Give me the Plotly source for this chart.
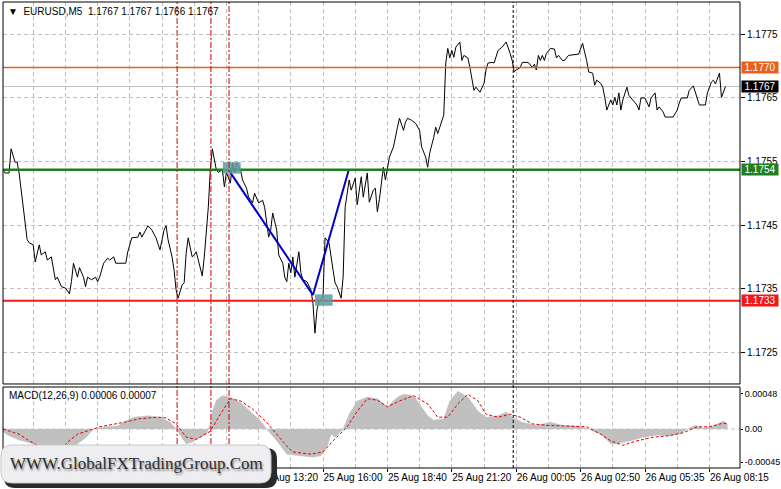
import plotly.graph_objects as go

# ---------------- data (bar index = 5-minute bars) ----------------
price_bar = [1, 2, 4, 5, 7, 8, 9, 11, 13, 14, 16, 17, 19, 20, 22, 23, 25, 27, 28, 30, 32, 34, 35, 36, 38, 39, 41, 42, 43, 45,
             47, 48, 49, 51, 53, 54, 56, 57, 62, 63, 65, 68, 69, 70, 72, 73, 75, 77, 79, 81, 82, 83, 85, 86, 87, 88, 90, 91, 92, 93,
             95, 96, 97, 99, 100, 101, 103, 104, 105, 107, 108, 110, 111, 112, 114, 115, 116, 117, 119, 120, 122, 123, 125, 126, 128, 130, 131, 133, 134, 135,
             137, 138, 140, 141, 142, 143, 144, 145, 146, 148, 149, 150, 152, 154, 155, 156, 157, 158, 160, 161, 163, 165, 166, 167, 168, 169, 170, 171, 173, 174,
             176, 177, 179, 180, 182, 183, 185, 186, 187, 188, 190, 191, 193, 195, 197, 198, 200, 201, 202, 204, 206, 208, 209, 211, 212, 213, 215, 216, 217, 218,
             220, 221, 222, 223, 224, 225, 226, 228, 229, 230, 232, 233, 234, 235, 236, 238, 240, 241, 242, 244, 245, 247, 249, 251, 253, 254, 255, 256, 258, 259,
             262, 264, 265, 266, 267, 268, 269, 270, 271, 273, 275, 276, 277, 279, 280, 282, 287, 289, 290, 291, 292, 294, 295, 296, 298, 299, 300, 301, 303, 304,
             305, 306, 307, 308, 309, 311, 312, 313, 315, 316, 317, 318, 320, 321, 322, 323, 325, 326, 327, 329, 330, 334, 336, 337, 338, 341, 342, 344, 345, 347,
             350, 351, 353, 354, 355, 357, 358, 360]
price_close = [1.17537, 1.17532, 1.17532, 1.17570, 1.17549, 1.17549, 1.17532, 1.17478, 1.17427, 1.17422, 1.17419, 1.17392, 1.17419, 1.17403, 1.17408, 1.17395, 1.17400, 1.17364, 1.17368, 1.17353, 1.17351, 1.17342, 1.17361, 1.17390, 1.17368, 1.17383, 1.17368, 1.17353, 1.17368, 1.17364,
               1.17368, 1.17361, 1.17368, 1.17390, 1.17398, 1.17395, 1.17400, 1.17390, 1.17390, 1.17408, 1.17430, 1.17431, 1.17439, 1.17431, 1.17442, 1.17449, 1.17442, 1.17430, 1.17411, 1.17442, 1.17449, 1.17427, 1.17400, 1.17379, 1.17348, 1.17335, 1.17356, 1.17359, 1.17406, 1.17430,
               1.17400, 1.17403, 1.17408, 1.17384, 1.17370, 1.17400, 1.17478, 1.17537, 1.17570, 1.17537, 1.17533, 1.17537, 1.17510, 1.17533, 1.17516, 1.17548, 1.17532, 1.17548, 1.17537, 1.17521, 1.17508, 1.17494, 1.17485, 1.17500, 1.17485, 1.17489, 1.17478, 1.17431, 1.17442, 1.17469,
               1.17442, 1.17403, 1.17390, 1.17368, 1.17361, 1.17390, 1.17375, 1.17400, 1.17368, 1.17408, 1.17375, 1.17364, 1.17361, 1.17348, 1.17327, 1.17280, 1.17317, 1.17329, 1.17337, 1.17430, 1.17422, 1.17379, 1.17359, 1.17353, 1.17345, 1.17335, 1.17368, 1.17478, 1.17521, 1.17505,
               1.17524, 1.17482, 1.17526, 1.17494, 1.17532, 1.17486, 1.17505, 1.17508, 1.17471, 1.17490, 1.17541, 1.17521, 1.17557, 1.17573, 1.17604, 1.17618, 1.17599, 1.17612, 1.17618, 1.17615, 1.17610, 1.17599, 1.17573, 1.17557, 1.17541, 1.17563, 1.17588, 1.17604, 1.17594, 1.17604,
               1.17623, 1.17705, 1.17728, 1.17713, 1.17725, 1.17714, 1.17730, 1.17738, 1.17709, 1.17717, 1.17713, 1.17698, 1.17678, 1.17662, 1.17667, 1.17659, 1.17673, 1.17694, 1.17705, 1.17706, 1.17705, 1.17725, 1.17730, 1.17738, 1.17720, 1.17709, 1.17691, 1.17694, 1.17698, 1.17706,
               1.17706, 1.17698, 1.17703, 1.17694, 1.17717, 1.17709, 1.17717, 1.17709, 1.17720, 1.17728, 1.17727, 1.17713, 1.17717, 1.17709, 1.17709, 1.17717, 1.17719, 1.17736, 1.17722, 1.17709, 1.17691, 1.17689, 1.17670, 1.17678, 1.17673, 1.17667, 1.17651, 1.17631, 1.17647, 1.17639,
               1.17651, 1.17639, 1.17658, 1.17631, 1.17647, 1.17667, 1.17654, 1.17650, 1.17643, 1.17639, 1.17631, 1.17650, 1.17650, 1.17643, 1.17636, 1.17650, 1.17658, 1.17631, 1.17636, 1.17628, 1.17620, 1.17620, 1.17631, 1.17642, 1.17650, 1.17650, 1.17662, 1.17669, 1.17658, 1.17639,
               1.17639, 1.17658, 1.17675, 1.17678, 1.17672, 1.17689, 1.17651, 1.17668]

hist_bar = [1, 4, 9, 16, 22, 29, 37, 42, 46, 52, 58, 62, 66, 73, 79, 84, 87, 90, 92, 95, 99, 102, 104, 105, 107, 110, 114, 119, 124, 129,
            132, 137, 142, 149, 155, 159, 162, 164, 166, 170, 173, 177, 182, 187, 192, 197, 200, 205, 208, 212, 215, 220, 223, 227, 232, 237, 241, 247, 251, 254,
            259, 266, 273, 279, 286, 292, 298, 303, 306, 313, 319, 326, 332, 337, 341, 345, 349, 354, 359, 361]
hist_val = [-0.00004, -0.00009, -0.00015, -0.00020, -0.00028, -0.00031, -0.00022, -0.00012, 0.0, 0.00003, 0.00004, 0.00011, 0.00016, 0.00018, 0.00016, 0.00009, 0.0, -0.00012, -0.00020, -0.00018,
            -0.00011, -0.00007, 0.00007, 0.00024, 0.00039, 0.00045, 0.00043, 0.00036, 0.00024, 0.00011, 0.0, -0.00016, -0.00034, -0.00036, -0.00038, -0.00036, -0.00024, -0.00007, -0.00011, 0.0,
            0.00020, 0.00038, 0.00043, 0.00041, 0.00030, 0.00043, 0.00047, 0.00045, 0.00034, 0.00018, 0.00012, 0.00014, 0.00038, 0.00051, 0.00043, 0.00024, 0.00016, 0.00018, 0.00023, 0.00016,
            0.00009, 0.00005, 0.00009, 0.00005, 0.00004, 0.0, -0.00007, -0.00020, -0.00020, -0.00016, -0.00011, -0.00008, -0.00009, -0.00007, 0.0, 0.00005, 0.00001, 0.00004, 0.00011, 0.00006]

signal_bar = [1, 9, 14, 22, 29, 33, 38, 49, 61, 69, 78, 82, 87, 92, 97, 104, 109, 114, 119, 125, 132, 137, 142, 145, 154, 160, 165, 172, 177, 182,
              187, 192, 198, 205, 212, 217, 222, 227, 232, 237, 241, 247, 253, 258, 264, 271, 279, 291, 298, 303, 309, 316, 324, 332, 339, 346, 352, 359, 361]
signal_val = [0.0, -0.00007, -0.00016, -0.00028, -0.00031, -0.00018, -0.00007, 0.00003, 0.00009, 0.00014, 0.00016, 0.00015, 0.00007, -0.00011, -0.00014, -0.00003, 0.00020, 0.00041, 0.00038, 0.00027,
              0.00009, -0.00007, -0.00023, -0.00031, -0.00034, -0.00031, -0.00016, 0.00003, 0.00024, 0.00041, 0.00039, 0.00030, 0.00038, 0.00045, 0.00034, 0.00016, 0.00016, 0.00034, 0.00047, 0.00038,
              0.00020, 0.00016, 0.00020, 0.00016, 0.00007, 0.00005, 0.00004, 0.00003, -0.00007, -0.00016, -0.00022, -0.00016, -0.00011, -0.00009, -0.00005, 0.00003, 0.00003, 0.00008, 0.00007]

tick_bar = [32, 64, 96, 128, 160, 192, 224, 256, 288, 320, 352]
tick_text = ["25 Aug 05:20", "25 Aug 08:00", "25 Aug 10:40", "25 Aug 13:20", "25 Aug 16:00", "25 Aug 18:40",
             "25 Aug 21:20", "26 Aug 00:05", "26 Aug 02:50", "26 Aug 05:35", "26 Aug 08:15"]

price_ticks = [1.1725, 1.1735, 1.1745, 1.1755, 1.1765, 1.1775]
macd_ticks = [0.00048, 0.0, -0.00045]
macd_tick_text = ["0.00048", "0.00", "-0.00045"]

level_price = [1.17698, 1.17537, 1.17331]
level_color = ["#E8601A", "#1E7F1E", "#F01818"]
level_width = [1.5, 2.5, 2]
bid_price = 1.17668

trend_bar = [112.8, 155.0, 172.9]
trend_price = [1.17538, 1.17340, 1.17538]

box_bar0 = [110.2, 156.0]
box_bar1 = [119.1, 164.8]
box_price0 = [1.17531, 1.17323]
box_price1 = [1.17549, 1.17341]

red_vlines = [87.5, 104.3, 113.3]
day_sep = 254.5

title_text = "▼&nbsp;&nbsp;EURUSD,M5&nbsp;&nbsp;1.1767 1.1767 1.1766 1.1767"
macd_text = "MACD(12,26,9) 0.00006 0.00007"
watermark = "WWW.GlobalFXTradingGroup.Com"

# ---------------- figure ----------------
FONT = "Liberation Sans, Arial, sans-serif"
GRID = "#C0C0C0"
GDASH = "4px,3px"

fig = go.Figure()
fig.add_trace(go.Scatter(x=price_bar, y=price_close, mode="lines",
                         line=dict(color="black", width=1), xaxis="x", yaxis="y", hoverinfo="skip"))
fig.add_trace(go.Scatter(x=trend_bar, y=trend_price, mode="lines",
                         line=dict(color="#0000CC", width=2), xaxis="x", yaxis="y", hoverinfo="skip"))
fig.add_trace(go.Scatter(x=hist_bar, y=hist_val, mode="lines", fill="tozeroy",
                         fillcolor="#C0C0C0", line=dict(color="#C0C0C0", width=0.5),
                         xaxis="x2", yaxis="y2", hoverinfo="skip"))
fig.add_trace(go.Scatter(x=signal_bar, y=signal_val, mode="lines",
                         line=dict(color="#E00000", width=1, dash="3px,2px"),
                         xaxis="x2", yaxis="y2", hoverinfo="skip"))

shapes = []
# bid line (behind)
shapes.append(dict(type="line", xref="x domain", x0=0, x1=1, yref="y", y0=bid_price, y1=bid_price,
                   line=dict(color="#C0C0C0", width=1), layer="below"))
# macd zero grid
shapes.append(dict(type="line", xref="x2 domain", x0=0, x1=1, yref="y2", y0=0, y1=0,
                   line=dict(color=GRID, width=1, dash=GDASH), layer="below"))
for p, c, w in zip(level_price, level_color, level_width):
    shapes.append(dict(type="line", xref="x domain", x0=0, x1=1, yref="y", y0=p, y1=p,
                       line=dict(color=c, width=w), layer="above"))
for a0, a1, b0, b1 in zip(box_bar0, box_bar1, box_price0, box_price1):
    shapes.append(dict(type="rect", xref="x", yref="y", x0=a0, x1=a1, y0=b0, y1=b1,
                       fillcolor="#5F9EA0", opacity=0.85, line=dict(width=0), layer="above"))
for v in red_vlines:
    shapes.append(dict(type="line", xref="x", x0=v, x1=v, yref="paper", y0=0, y1=1,
                       line=dict(color="#D00000", width=1, dash="6px,2px,2px,2px"), layer="above"))
shapes.append(dict(type="line", xref="x", x0=day_sep, x1=day_sep, yref="paper", y0=0, y1=1,
                   line=dict(color="black", width=1, dash="3px,2px"), layer="above"))
# panel borders
shapes.append(dict(type="rect", xref="x domain", yref="y domain", x0=0, x1=1, y0=0, y1=1,
                   line=dict(color="black", width=1), layer="above"))
shapes.append(dict(type="rect", xref="x2 domain", yref="y2 domain", x0=0, x1=1, y0=0, y1=1,
                   line=dict(color="black", width=1), layer="above"))


def rrect(x0, y0, x1, y1, r):
    def X(p):
        return (p - 3) / 737.0

    def Y(p):
        return (468 - p) / 466.0
    return (f"M {X(x0+r)} {Y(y0)} L {X(x1-r)} {Y(y0)} Q {X(x1)} {Y(y0)} {X(x1)} {Y(y0+r)} "
            f"L {X(x1)} {Y(y1-r)} Q {X(x1)} {Y(y1)} {X(x1-r)} {Y(y1)} L {X(x0+r)} {Y(y1)} "
            f"Q {X(x0)} {Y(y1)} {X(x0)} {Y(y1-r)} L {X(x0)} {Y(y0+r)} Q {X(x0)} {Y(y0)} {X(x0+r)} {Y(y0)} Z")


shapes.append(dict(type="path", xref="paper", yref="paper", path=rrect(4, 448, 277, 488, 11),
                   fillcolor="#2A2A2A", line=dict(width=0), layer="above"))
shapes.append(dict(type="path", xref="paper", yref="paper", path=rrect(1, 445, 271, 483, 11),
                   fillcolor="#EEEEF1", line=dict(color="#C8C8C8", width=1), layer="above"))

annotations = []
for p, c in zip(level_price, level_color):
    annotations.append(dict(xref="paper", x=1, xanchor="left", xshift=1, yref="y", y=p,
                            text=f"{p:.4f}", showarrow=False, bgcolor=c, width=36, height=11,
                            borderpad=0, font=dict(family=FONT, size=10, color="white")))
annotations.append(dict(xref="paper", x=1, xanchor="left", xshift=1, yref="y", y=bid_price,
                        text=f"{bid_price:.4f}", showarrow=False, bgcolor="black", width=36, height=11,
                        borderpad=0, font=dict(family=FONT, size=10, color="white")))
annotations.append(dict(xref="paper", x=0, xanchor="left", xshift=3, yref="paper", y=1, yanchor="top",
                        yshift=-2, text=title_text, showarrow=False,
                        font=dict(family=FONT, size=10, color="black")))
annotations.append(dict(xref="paper", x=0, xanchor="left", xshift=4, yref="y2 domain", y=1, yanchor="top",
                        yshift=-1, text=macd_text, showarrow=False,
                        font=dict(family=FONT, size=10, color="black")))
annotations.append(dict(xref="paper", x=(136 - 3) / 737.0, xanchor="center", yref="paper",
                        y=(468 - 463) / 466.0, yanchor="middle", text=watermark, showarrow=False,
                        font=dict(family="Liberation Serif, Times New Roman, serif", size=17, color="#2F2F2F",
                                  shadow="1px 2px 2px rgba(0,0,0,0.45)")))

fig.update_layout(
    width=781, height=489,
    margin=dict(l=3, r=41, t=2, b=21, pad=0, autoexpand=False),
    paper_bgcolor="white", plot_bgcolor="white",
    showlegend=False,
    font=dict(family=FONT, size=10, color="black"),
    xaxis=dict(domain=[0, 1], anchor="y", range=[0.99, 367.2], tickmode="linear", tick0=0, dtick=16,
               showticklabels=False, ticks="", showgrid=True, gridcolor=GRID, griddash=GDASH, gridwidth=1,
               zeroline=False, showline=False, automargin=False),
    xaxis2=dict(domain=[0, 1], anchor="y2", matches="x", range=[0.99, 367.2], tickmode="array",
                tickvals=tick_bar, ticktext=tick_text, ticklabelposition="outside right", tickangle=0,
                ticks="outside", ticklen=3, tickcolor="black", tickfont=dict(family=FONT, size=10),
                showgrid=True, gridcolor=GRID, griddash=GDASH, gridwidth=1, automargin=False,
                ticklabeloverflow="allow",
                minor=dict(tickmode="linear", tick0=0, dtick=16, showgrid=True, gridcolor=GRID,
                           griddash=GDASH, gridwidth=1, ticks=""),
                zeroline=False, showline=False),
    yaxis=dict(domain=[0.1803, 1], anchor="x", side="right", range=[1.17200, 1.17801],
               tickmode="array", tickvals=price_ticks, ticktext=[f"{t:.4f}" for t in price_ticks],
               ticks="outside", ticklen=4, tickcolor="black", tickfont=dict(family=FONT, size=10),
               showgrid=True, gridcolor=GRID, griddash=GDASH, gridwidth=1, zeroline=False, showline=False,
               automargin=False, ticklabeloverflow="allow"),
    yaxis2=dict(domain=[0, 0.1738], anchor="x2", side="right", range=[-0.000527, 0.000568],
                tickmode="array", tickvals=macd_ticks, ticktext=macd_tick_text,
                ticks="outside", ticklen=2, tickcolor="black", tickfont=dict(family=FONT, size=9),
                showgrid=False, zeroline=False, showline=False, automargin=False,
                ticklabeloverflow="allow"),
    shapes=shapes,
    annotations=annotations,
)

fig.write_html("out.html", config={"displayModeBar": False},
               post_script="document.body.style.margin='0';document.body.style.overflow='hidden';")
